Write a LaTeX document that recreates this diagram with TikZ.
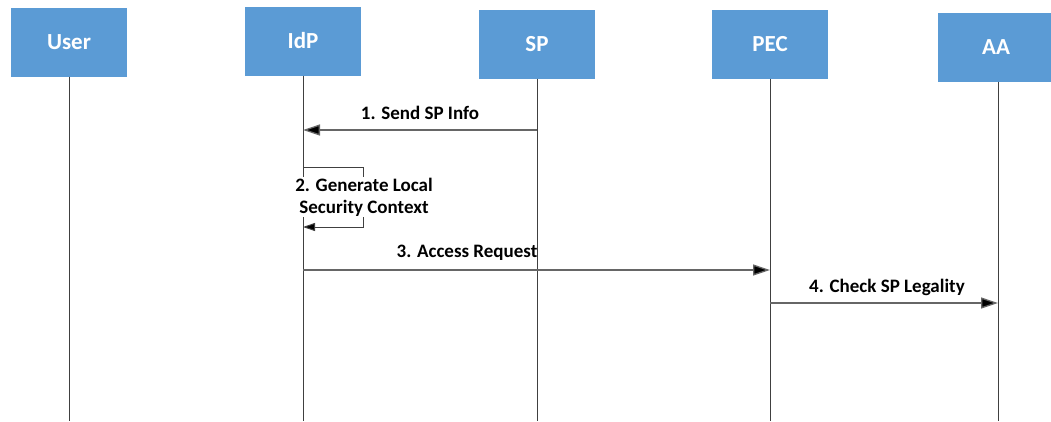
\documentclass[tikz,border=0pt]{standalone}
\usepackage{fontspec}
\setmainfont{Carlito}
\usetikzlibrary{arrows.meta}
\definecolor{boxblue}{HTML}{5B9BD5}
\definecolor{linegray}{HTML}{404040}
\begin{document}
\begin{tikzpicture}[x=1pt,y=-1pt,
  actor/.style={draw=none,fill=boxblue,text=white,font=\bfseries\fontsize{23}{26}\selectfont,minimum width=116pt,minimum height=69pt,inner sep=0pt},
  life/.style={draw=linegray,line width=0.9pt},
  msg/.style={draw=linegray!80,line width=1.3pt,-{Triangle[length=17pt,width=11pt,fill=black]}},
  selfmsg/.style={draw=linegray,line width=1pt,-{Triangle[length=12pt,width=8pt,fill=black]}},
  lbl/.style={font=\bfseries\fontsize{19}{23}\selectfont,text=black,inner sep=1pt,align=center}]
\useasboundingbox (0,0) rectangle (1051,421);
% actors
\node[actor] (user) at (69,42) {User};
\node[actor] (idp) at (303,41) {IdP};
\node[actor] (sp) at (537,44) {SP};
\node[actor] (pec) at (770,44) {PEC};
\node[actor] (aa) at (996,47) {AA};
% lifeline ends
\coordinate (userE) at (69,421);
\coordinate (idpE) at (303,421);
\coordinate (spE) at (537,421);
\coordinate (pecE) at (770,421);
\coordinate (aaE) at (998,421);
\draw[life] (user.south) -- (userE);
\draw[life] (idp.south) -- (idpE);
\draw[life] (sp.south -| spE) -- (spE);
\draw[life] (pec.south) -- (pecE);
\draw[life] (aa.south -| aaE) -- (aaE);
% message points
\coordinate (m1s) at (537,130);
\coordinate (m1e) at (303,130);
\coordinate (m2a) at (303,167);
\coordinate (m2b) at (363,167);
\coordinate (m2c) at (363,227);
\coordinate (m2d) at (303,227);
\coordinate (m3s) at (303,270);
\coordinate (m3e) at (770,270);
\coordinate (m4s) at (770,303);
\coordinate (m4e) at (998,303);
% messages
\draw[msg] (m1s) -- (m1e);
\node[lbl] (l1) at (420,113) {1. Send SP Info};
\draw[selfmsg] (m2a) -- (m2b) -- (m2c) -- (m2d);
\node[lbl,fill=white] (l2) at (364,197) {2. Generate Local\\[-1pt]Security Context};
\draw[msg] (m3s) -- (m3e);
\node[lbl] (l3) at (467,253) {3. Access Request};
\draw[msg] (m4s) -- (m4e);
\node[lbl] (l4) at (887,287) {4. Check SP Legality};
\end{tikzpicture}
\end{document}
